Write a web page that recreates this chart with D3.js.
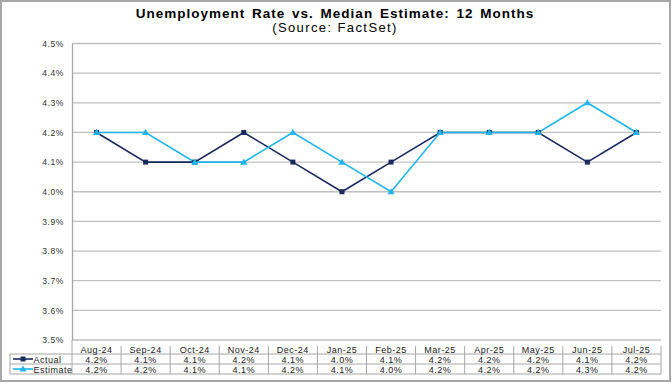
<!DOCTYPE html>
<html><head><meta charset="utf-8">
<script src="https://cdn.jsdelivr.net/npm/d3@7"></script>
<style>body{margin:0;background:#fff}svg{display:block}text{font-family:Arial,"Liberation Sans",sans-serif}</style>
</head><body><svg id="c" width="672" height="384"></svg>
<script>
const months = ["Aug-24","Sep-24","Oct-24","Nov-24","Dec-24","Jan-25","Feb-25","Mar-25","Apr-25","May-25","Jun-25","Jul-25"];
const actual = [4.2,4.1,4.1,4.2,4.1,4.0,4.1,4.2,4.2,4.2,4.1,4.2];
const estimate = [4.2,4.2,4.1,4.1,4.2,4.1,4.0,4.2,4.2,4.2,4.3,4.2];
const yTicks = [3.5,3.6,3.7,3.8,3.9,4.0,4.1,4.2,4.3,4.4,4.5];
const seriesNames = ["Actual","Estimate"];
const colors = ["#1b2a5e","#1fb5ec"];

const svg = d3.select("#c");
const L=72, R=661, T=43.5, B=340;
const x = d3.scaleBand().domain(months).range([L,R]);
const y = d3.scaleLinear().domain([3.5,4.5]).range([B,T]);

// outer border
svg.append("rect").attr("x",1).attr("y",1).attr("width",669).attr("height",380)
  .attr("fill","#fff").attr("stroke","#a6a6a6").attr("stroke-width",2);

// title
svg.append("text").attr("x",335).attr("y",18).attr("text-anchor","middle")
  .attr("font-size",13.5).attr("font-weight","bold").attr("fill","#000")
  .attr("letter-spacing",1.0).attr("word-spacing",2)
  .text("Unemployment Rate vs. Median Estimate: 12 Months");
svg.append("text").attr("x",335).attr("y",32).attr("text-anchor","middle")
  .attr("font-size",13).attr("fill","#000").attr("letter-spacing",1.4)
  .text("(Source: FactSet)");

// gridlines
svg.append("g").selectAll("line").data(yTicks).join("line")
  .attr("x1",L).attr("x2",R).attr("y1",d=>y(d)).attr("y2",d=>y(d))
  .attr("stroke","#c0c0c0").attr("stroke-width",1.3);
// y axis
const yAxis = d3.axisLeft(y).tickValues(yTicks).tickFormat(d=>d.toFixed(1)+"%").tickSize(0).tickPadding(8);
const gy = svg.append("g").attr("transform",`translate(${L},0)`).call(yAxis);
gy.select(".domain").attr("stroke","#a6a6a6").attr("stroke-width",1.3);
gy.selectAll("text").attr("font-size",8.5).attr("letter-spacing",0.6).attr("fill","#333").attr("font-family","Arial,'Liberation Sans',sans-serif");

// lines
const data = [actual, estimate];
const line = d3.line().x((d,i)=>x(months[i])+x.bandwidth()/2).y(d=>y(d));
data.forEach((s,k)=>{
  svg.append("path").datum(s).attr("d",line).attr("fill","none")
    .attr("stroke",colors[k]).attr("stroke-width",1.6);
});
// markers
svg.append("g").selectAll("rect").data(actual).join("rect")
  .attr("x",(d,i)=>x(months[i])+x.bandwidth()/2-2.5).attr("y",d=>y(d)-2.5)
  .attr("width",5).attr("height",5).attr("fill",colors[0]);
const tri = d3.symbol().type(d3.symbolTriangle).size(22);
svg.append("g").selectAll("path").data(estimate).join("path")
  .attr("d",tri).attr("transform",(d,i)=>`translate(${x(months[i])+x.bandwidth()/2},${y(d)+0.5})`)
  .attr("fill",colors[1]);

// data table
const tg = svg.append("g");
const tcol = "#a6a6a6";
[354,364,374].forEach(v=>{
  tg.append("line").attr("x1",10).attr("x2",R).attr("y1",v).attr("y2",v).attr("stroke",tcol);
});
tg.append("line").attr("x1",10).attr("x2",10).attr("y1",354).attr("y2",374).attr("stroke",tcol);
tg.append("line").attr("x1",L).attr("x2",L).attr("y1",B).attr("y2",374).attr("stroke",tcol);
tg.selectAll(".vd").data(months).join("line")
  .attr("x1",d=>x(d)+x.bandwidth()).attr("x2",d=>x(d)+x.bandwidth())
  .attr("y1",346).attr("y2",374).attr("stroke",tcol);
const tfs = 9, tls = 0.5;
tg.selectAll(".hd").data(months).join("text")
  .attr("x",d=>x(d)+x.bandwidth()/2).attr("y",353).attr("text-anchor","middle")
  .attr("font-size",tfs).attr("letter-spacing",tls).attr("fill","#222").text(d=>d);
data.forEach((s,k)=>{
  const yy = 362.5 + k*10;
  tg.append("g").selectAll("text").data(s).join("text")
    .attr("x",(d,i)=>x(months[i])+x.bandwidth()/2).attr("y",yy).attr("text-anchor","middle")
    .attr("font-size",tfs).attr("letter-spacing",tls).attr("fill","#222").text(d=>d.toFixed(1)+"%");
  const ly = 359 + k*10;
  tg.append("line").attr("x1",13).attr("x2",33).attr("y1",ly).attr("y2",ly)
    .attr("stroke",colors[k]).attr("stroke-width",1.6);
  if(k===0) tg.append("rect").attr("x",20.5).attr("y",ly-2.5).attr("width",5).attr("height",5).attr("fill",colors[0]);
  else tg.append("path").attr("d",tri).attr("transform",`translate(23,${ly+0.5})`).attr("fill",colors[1]);
  tg.append("text").attr("x",33.5).attr("y",yy).attr("font-size",tfs).attr("letter-spacing",tls).attr("fill","#222").text(seriesNames[k]);
});
</script></body></html>
